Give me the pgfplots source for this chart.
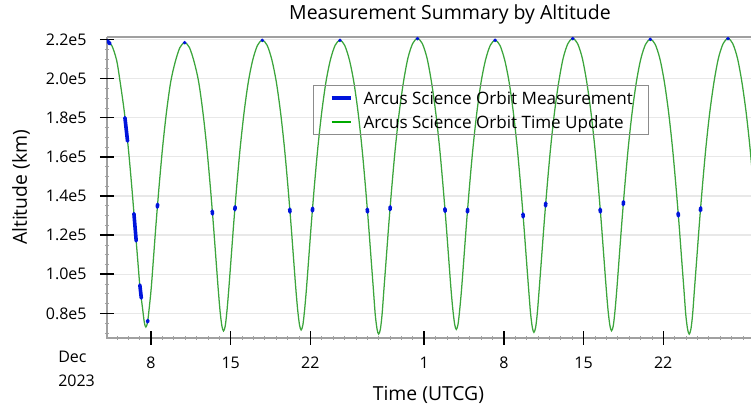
\documentclass[border=0pt]{standalone}
\usepackage{fontspec}
\setmainfont{Open Sans}
\usepackage{pgfplots}
\pgfplotsset{compat=1.18}

\definecolor{orbitgreen}{RGB}{60,165,60}
\definecolor{legendgreen}{RGB}{0,170,0}
\definecolor{measblue}{RGB}{0,20,220}
\definecolor{axisgray}{RGB}{160,160,160}
\definecolor{gridgray}{RGB}{232,232,232}
\definecolor{legendgray}{RGB}{140,140,140}

\newcommand{\tickfont}{\fontsize{12pt}{14pt}\selectfont}
\newcommand{\labelfont}{\fontsize{14.5pt}{17pt}\selectfont}
\newcommand{\legfont}{\fontsize{12.8pt}{15pt}\selectfont}

\begin{document}
\begin{tikzpicture}
% frame: left, bottom and top edges of the plot box (483pt x 225.75pt)
\draw[axisgray, line width=1pt] (483pt,0) -- (0,0) -- (0,225.75pt);
\draw[axisgray, line width=1.6pt] (0,225.75pt) -- (483pt,225.75pt);

\begin{axis}[
  name=ax,
  at={(0,0)}, anchor=south west,
  scale only axis,
  width=483pt, height=225.75pt,
  xmin=4.135, xmax=60.71,
  ymin=67400, ymax=221200,
  axis line style={draw=none},
  tick pos=left,
  tick align=center,
  xtick={8,15,22,32,39,46,53},
  xticklabels={8,15,22,1,8,15,22},
  minor xtick={5,...,60},
  ytick={80000,100000,120000,140000,160000,180000,200000,220000},
  yticklabels={0.8e5,1.0e5,1.2e5,1.4e5,1.6e5,1.8e5,2.0e5,2.2e5},
  minor ytick={70000,75000,80000,85000,90000,95000,100000,105000,110000,115000,
    120000,125000,130000,135000,140000,145000,150000,155000,160000,165000,
    170000,175000,180000,185000,190000,195000,200000,205000,210000,215000,220000},
  scaled x ticks=false, scaled y ticks=false,
  major tick length=10.5pt,
  minor tick length=2.5pt,
  major tick style={black, line width=1.1pt},
  minor tick style={axisgray, line width=0.5pt},
  ymajorgrids,
  major grid style={gridgray, line width=1pt},
  xticklabel style={font=\tickfont, anchor=base, yshift=-17.9pt},
  yticklabel style={font=\tickfont, anchor=east, inner sep=0pt, xshift=-9.9pt},
  clip mode=individual,
  unbounded coords=jump,
  legend cell align=left,
  legend style={
    at={(0.3199,0.8405)}, anchor=north west,
    draw=legendgray, line width=0.75pt, fill=none,
    inner xsep=12pt, inner ysep=3pt,
    row sep=4.35pt, column sep=8.25pt,
    font=\legfont,
    nodes={inner sep=0pt, text height=11.5pt, text depth=1.7pt},
  },
  legend image code/.code={\draw[#1] (0pt,0pt) -- (14.25pt,0pt);},
]

% Time Update: propagated altitude (days from 1 Dec 2023, km)
\addplot[orbitgreen, line width=0.95pt, smooth, forget plot] coordinates {
 (4.14,219300) (4.56,216800) (4.98,209300) (5.29,198200) (5.66,182800) (6.00,164800)
 (6.30,145500) (6.57,126200) (6.82,108300) (7.04,92800) (7.25,83000) (7.41,75500)
 (7.55,73000) (7.70,75500) (7.85,83000) (8.02,92800) (8.22,108300) (8.45,126200)
 (8.72,145500) (9.02,164800) (9.36,182800) (9.73,198200) (10.12,208300) (10.54,215800)
 (10.96,218300)
 (11.38,215800) (11.80,208300) (12.19,198200) (12.56,182800) (12.90,164800) (13.20,145500)
 (13.47,126200) (13.70,108300) (13.90,92800) (14.07,81000) (14.23,73500) (14.37,71000)
 (14.52,73500) (14.67,81000) (14.84,92800) (15.04,108300) (15.27,126200) (15.54,145500)
 (15.84,164800) (16.18,182800) (16.55,198200) (16.94,209500) (17.36,217000) (17.78,219500)
 (18.20,217000) (18.62,209500) (19.01,198200) (19.38,182800) (19.72,164800) (20.02,145500)
 (20.29,126200) (20.52,108300) (20.72,92800) (20.89,81500) (21.05,74000) (21.19,71500)
 (21.34,74000) (21.49,81500) (21.66,92800) (21.86,108300) (22.09,126200) (22.36,145500)
 (22.66,164800) (23.00,182800) (23.37,198200) (23.76,209500) (24.18,217000) (24.60,219500)
 (25.01,217000) (25.43,209500) (25.82,198200) (26.19,182800) (26.53,164800) (26.83,145500)
 (27.10,126200) (27.33,108300) (27.53,92800) (27.70,79400) (27.86,71900) (28.00,69400)
 (28.15,71900) (28.30,79400) (28.47,92800) (28.67,108300) (28.90,126200) (29.17,145500)
 (29.47,164800) (29.81,182800) (30.18,198200) (30.57,210400) (30.99,217900) (31.41,220400)
 (31.83,217900) (32.25,210400) (32.64,198200) (33.01,182800) (33.35,164800) (33.65,145500)
 (33.92,126200) (34.15,108300) (34.35,92800) (34.52,81800) (34.68,74300) (34.82,71800)
 (34.97,74300) (35.12,81800) (35.29,92800) (35.49,108300) (35.72,126200) (35.99,145500)
 (36.29,164800) (36.63,182800) (37.00,198200) (37.39,209500) (37.81,217000) (38.23,219500)
 (38.65,217000) (39.07,209500) (39.46,198200) (39.83,182800) (40.17,164800) (40.47,145500)
 (40.74,126200) (40.97,108300) (41.17,92800) (41.34,80300) (41.50,72800) (41.64,70300)
 (41.79,72800) (41.94,80300) (42.11,92800) (42.31,108300) (42.54,126200) (42.81,145500)
 (43.11,164800) (43.45,182800) (43.82,198200) (44.21,210400) (44.63,217900) (45.05,220400)
 (45.47,217900) (45.89,210400) (46.28,198200) (46.65,182800) (46.99,164800) (47.29,145500)
 (47.56,126200) (47.79,108300) (47.99,92800) (48.16,81100) (48.32,73600) (48.46,71100)
 (48.61,73600) (48.76,81100) (48.93,92800) (49.13,108300) (49.36,126200) (49.63,145500)
 (49.93,164800) (50.27,182800) (50.64,198200) (51.03,210000) (51.45,217500) (51.87,220000)
 (52.29,217500) (52.71,210000) (53.10,198200) (53.47,182800) (53.81,164800) (54.11,145500)
 (54.38,126200) (54.61,108300) (54.81,92800) (54.98,79400) (55.14,71900) (55.28,69400)
 (55.43,71900) (55.58,79400) (55.75,92800) (55.95,108300) (56.18,126200) (56.45,145500)
 (56.75,164800) (57.09,182800) (57.46,198200) (57.85,210400) (58.27,217900) (58.69,220400)
 (59.10,217900) (59.52,210400) (59.91,198200) (60.28,182800) (60.62,164800) (60.92,145500)
};

% Measurement passes: short tracked arcs and apogee fixes
\addplot[measblue, line width=2.7pt, line cap=round, forget plot] coordinates {
 (4.17,219200) (4.40,217700) (nan,nan)
 (5.71,180000) (5.94,168000) (nan,nan)
 (6.50,131000) (6.70,117000) (nan,nan)
 (7.02,94500) (7.15,87800) (nan,nan)
 (7.70,75600) (7.72,76400) (nan,nan)
 (8.56,134250) (8.58,135750) (nan,nan)
 (13.38,132250) (13.40,130750) (nan,nan)
 (15.37,132950) (15.39,134450) (nan,nan)
 (20.19,133250) (20.21,131750) (nan,nan)
 (22.18,132250) (22.20,133750) (nan,nan)
 (27.00,133250) (27.02,131750) (nan,nan)
 (29.00,132950) (29.02,134450) (nan,nan)
 (33.82,133550) (33.84,132050) (nan,nan)
 (35.80,131750) (35.82,133250) (nan,nan)
 (40.68,130750) (40.70,129250) (nan,nan)
 (42.66,134850) (42.68,136350) (nan,nan)
 (47.46,133250) (47.48,131750) (nan,nan)
 (49.49,135550) (49.51,137050) (nan,nan)
 (54.31,131250) (54.33,129750) (nan,nan)
 (56.27,132450) (56.29,133950) (nan,nan)
 (10.945,218300) (10.975,218300) (nan,nan)
 (17.765,219500) (17.795,219500) (nan,nan)
 (24.585,219500) (24.615,219500) (nan,nan)
 (31.395,220400) (31.425,220400) (nan,nan)
 (38.215,219500) (38.245,219500) (nan,nan)
 (45.035,220400) (45.065,220400) (nan,nan)
 (51.855,220000) (51.885,220000) (nan,nan)
 (58.675,220400) (58.705,220400)
};

\addlegendimage{measblue, line width=3pt}
\addlegendentry{Arcus Science Orbit Measurement}
\addlegendimage{legendgreen, line width=1.5pt}
\addlegendentry{Arcus Science Orbit Time Update}
\end{axis}

% titles and axis labels
\node[anchor=base, inner sep=0pt, font=\fontsize{14.6pt}{17pt}\selectfont]
  at (257.25pt,238.9pt) {Measurement Summary by Altitude};
\node[anchor=base, inner sep=0pt, font=\labelfont] at (241.1pt,-47.25pt) {Time (UTCG)};
\node[anchor=base, inner sep=0pt, rotate=90, font=\labelfont] at (-60pt,112.9pt) {Altitude (km)};
\node[anchor=base west, inner sep=0pt, font=\tickfont] at (-36.75pt,-18.75pt) {Dec};
\node[anchor=base west, inner sep=0pt, font=\tickfont] at (-36.75pt,-36.75pt) {2023};

\pgfresetboundingbox
\path[use as bounding box] (-80.25pt,-53.25pt) rectangle (483pt,253.5pt);
\end{tikzpicture}
\end{document}
